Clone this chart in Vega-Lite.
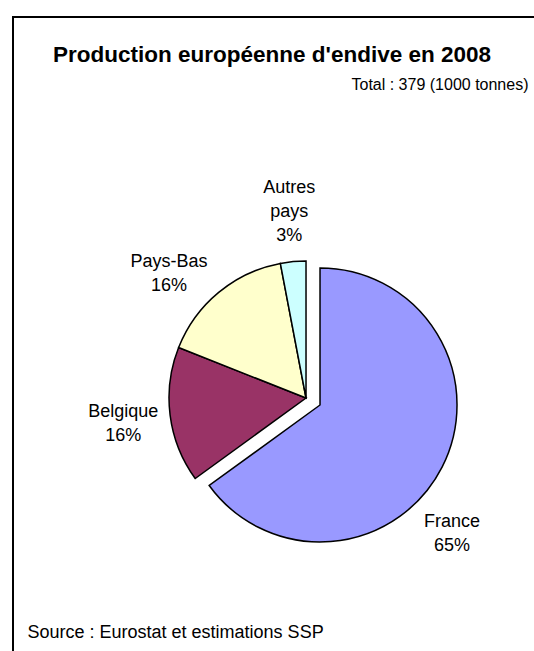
{
  "$schema": "https://vega.github.io/schema/vega-lite/v6.json",
  "width": 524,
  "height": 637,
  "autosize": {"type": "none"},
  "padding": {"left": 13, "top": 17, "right": -3, "bottom": -3},
  "background": "white",
  "config": {
    "view": {"stroke": "black", "strokeWidth": 2},
    "font": "Liberation Sans"
  },
  "title": {
    "text": "Production européenne d'endive en 2008",
    "font": "Liberation Sans",
    "fontSize": 22.5,
    "fontWeight": "bold",
    "color": "black",
    "anchor": "middle",
    "frame": "group",
    "baseline": "top",
    "offset": -49,
    "dx": -3
  },
  "data": {
    "values": [
      {"pays": "France", "part": 65, "rang": 1, "label": "France\n65%"},
      {"pays": "Belgique", "part": 16, "rang": 2, "label": "Belgique\n16%"},
      {"pays": "Pays-Bas", "part": 16, "rang": 3, "label": "Pays-Bas\n16%"},
      {"pays": "Autres pays", "part": 3, "rang": 4, "label": "Autres\npays\n3%"}
    ]
  },
  "transform": [
    {"stack": "part", "groupby": [], "sort": [{"field": "rang", "order": "ascending"}], "as": ["v0", "v1"]}
  ],
  "encoding": {
    "x": {
      "datum": 0.5592,
      "type": "quantitative",
      "scale": {"domain": [0, 1]},
      "axis": {
        "orient": "bottom",
        "domain": false,
        "ticks": false,
        "labels": false,
        "grid": false,
        "title": "Source : Eurostat et estimations SSP",
        "titleX": 14,
        "titleY": -22,
        "titleAlign": "left",
        "titleBaseline": "middle",
        "titleFont": "Liberation Sans",
        "titleFontSize": 18,
        "titleFontWeight": "normal",
        "titleColor": "black"
      }
    },
    "y": {
      "datum": 0.5981,
      "type": "quantitative",
      "scale": {"domain": [0, 1], "reverse": true},
      "axis": {
        "orient": "left",
        "domain": false,
        "ticks": false,
        "labels": false,
        "grid": false,
        "title": "Total : 379 (1000 tonnes)",
        "titleAngle": 0,
        "titleX": 515,
        "titleY": 67,
        "titleAlign": "right",
        "titleBaseline": "middle",
        "titleFont": "Liberation Sans",
        "titleFontSize": 16,
        "titleFontWeight": "normal",
        "titleColor": "black"
      }
    }
  },
  "layer": [
    {
      "transform": [{"filter": "datum.pays !== 'France'"}],
      "mark": {"type": "arc", "radius": 137, "stroke": "black", "strokeWidth": 1.5},
      "encoding": {
        "theta": {"field": "v0", "type": "quantitative", "scale": {"domain": [0, 100]}},
        "theta2": {"field": "v1"},
        "color": {
          "field": "pays",
          "type": "nominal",
          "scale": {"domain": ["France", "Belgique", "Pays-Bas", "Autres pays"], "range": ["#9999ff", "#993366", "#ffffcc", "#ccffff"]},
          "legend": null
        }
      }
    },
    {
      "transform": [{"filter": "datum.pays === 'France'"}],
      "mark": {"type": "arc", "radius": 137, "stroke": "black", "strokeWidth": 1.5, "xOffset": 14, "yOffset": 7},
      "encoding": {
        "theta": {"field": "v0", "type": "quantitative", "scale": {"domain": [0, 100]}},
        "theta2": {"field": "v1"},
        "color": {
          "field": "pays",
          "type": "nominal",
          "scale": {"domain": ["France", "Belgique", "Pays-Bas", "Autres pays"], "range": ["#9999ff", "#993366", "#ffffcc", "#ccffff"]},
          "legend": null
        }
      }
    },
    {
      "transform": [{"filter": "datum.pays === 'Autres pays'"}],
      "mark": {"type": "text", "radius": 185, "fontSize": 18, "lineHeight": 24, "lineBreak": "\n", "font": "Liberation Sans", "color": "black", "align": "center", "baseline": "middle", "dx": 18, "dy": -28},
      "encoding": {
        "theta": {"field": "v0", "type": "quantitative", "scale": {"domain": [0, 100]}},
        "text": {"field": "label"}
      }
    },
    {
      "transform": [{"filter": "datum.pays === 'Pays-Bas'"}],
      "mark": {"type": "text", "radius": 185, "fontSize": 18, "lineHeight": 24, "lineBreak": "\n", "font": "Liberation Sans", "color": "black", "align": "center", "baseline": "middle", "dx": 35, "dy": -68},
      "encoding": {
        "theta": {"field": "v0", "type": "quantitative", "scale": {"domain": [0, 100]}},
        "text": {"field": "label"}
      }
    },
    {
      "transform": [{"filter": "datum.pays === 'Belgique'"}],
      "mark": {"type": "text", "radius": 185, "fontSize": 18, "lineHeight": 24, "lineBreak": "\n", "font": "Liberation Sans", "color": "black", "align": "center", "baseline": "middle", "dx": -33, "dy": -95},
      "encoding": {
        "theta": {"field": "v0", "type": "quantitative", "scale": {"domain": [0, 100]}},
        "text": {"field": "label"}
      }
    },
    {
      "transform": [{"filter": "datum.pays === 'France'"}],
      "mark": {"type": "text", "radius": 185, "fontSize": 18, "lineHeight": 24, "lineBreak": "\n", "font": "Liberation Sans", "color": "black", "align": "center", "baseline": "middle", "xOffset": 14, "yOffset": 7, "dx": 132, "dy": 302},
      "encoding": {
        "theta": {"field": "v0", "type": "quantitative", "scale": {"domain": [0, 100]}},
        "text": {"field": "label"}
      }
    }
  ]
}
